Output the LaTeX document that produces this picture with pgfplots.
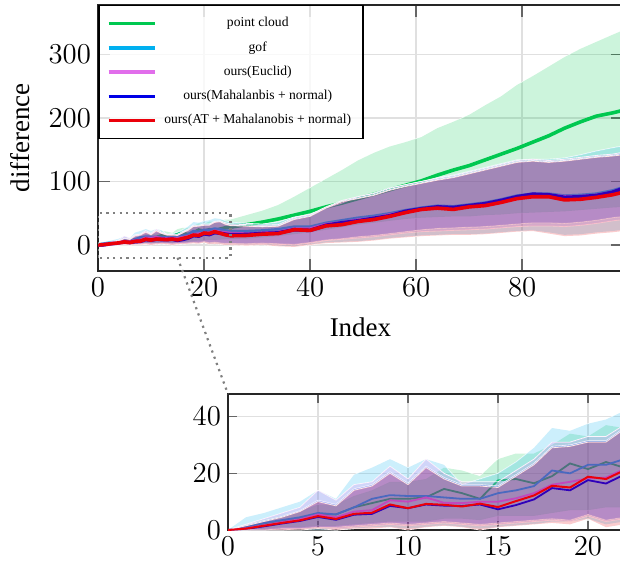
\documentclass[border=0pt]{standalone}
\usepackage{fontspec}
\setmainfont{Liberation Serif}
\usepackage{pgfplots}
\pgfplotsset{compat=1.18}
\usepackage{pgfplotstable}
\usepgfplotslibrary{fillbetween}
\pgfkeysifdefined{/tikz/fill between/on layer}{\tikzset{fill between/on layer=main}}{}
\pgfkeysifdefined{/tikz/fill between/on layer/.@cmd}{\tikzset{fill between/on layer=main}}{}

\definecolor{cG}{RGB}{0,200,80}
\definecolor{cC}{RGB}{0,176,240}
\definecolor{cV}{RGB}{225,110,235}
\definecolor{cB}{RGB}{0,0,230}
\definecolor{cR}{RGB}{235,0,10}

% columns: index, mean, upper, lower
\pgfplotstableread{
x m u l
0 0 0 0
1 0.8 2 0
2 2 3.5 0.5
3 3 5 1
4 4 6.5 1
5 5.5 9 1.5
6 5.5 9 1.5
7 8 12 2
8 9.5 14 2.5
9 11 17 3
10 11 17 3
11 11.5 18 3
12 14.5 22 4
13 13 21 4
14 11 19 3.5
15 17.5 25 5
16 18 27 5
17 16.5 27 5
18 19 30 6
19 23.5 34 7
20 21.5 33 7
21 24 37 8
22 22 36 8
23 25 38 8.5
24 27 40 9
25 28 40 9.5
28 32 47 10
31 36 54 12
34 41 63 14
37 47 76 17
40 53 90 20
43 60 104 24
46 66 118 28
49 73 133 32
52 80 145 35
55 87 155 38
58 94 162 41
61 101 170 43
64 110 184 44
67 118 194 45
70 125 205 45
73 134 220 47
76 143 234 48
79 152 252 50
82 162 266 51
85 172 281 52
88 184 296 53
91 194 309 55
94 203 320 57
97 208 331 59
99 212 338 60
}\tG

\pgfplotstableread{
x m u l
0 0 0 0
1 1 4.5 0
2 2.5 6 0
3 3.5 8 0
4 4.5 10 0
5 6 14 0
6 5.5 11 0
7 8 19.5 0.5
8 11 22 1
9 12.3 25 1
10 12 22 0.5
11 12 25 1
12 11.5 23 1.5
13 11 16 1
14 11 18 0.5
15 13 20 1
16 14 24 1.5
17 15.5 29 2
18 21 36 3
19 20 35 3
20 23 37.5 4
21 23 39 2
22 25 42 3
23 24 41 2
24 22 38 1
25 21 36 1
28 21 34 0
31 22 33 1
34 24 36 -1
37 28 44 -2
40 28 48 1
43 34 58 4
46 38 66 5
49 42 76 6
52 45 82 8
55 49 90 11
58 54 95 13
61 58 100 15
64 61 106 16
67 60 110 17
70 63 116 17
73 66 122 18
76 71 128 20
79 77 134 22
82 80 135 23
85 80 135 20
88 77 137 16
91 78 142 17
94 80 148 20
97 85 153 22
99 90 156 24
}\tC

\pgfplotstableread{
x m u l
0 0 0 0
1 0.6 2 0
2 1.7 4 0
3 2.8 6 0
4 3.8 8 0.5
5 5.5 14 1
6 4.5 10.5 0.5
7 6.5 16 1
8 7 17 1.5
9 10.5 22.5 2
10 10 18 1.5
11 11.5 25 2
12 9.6 20 2.5
13 9.5 17 2
14 10 17 1.5
15 10 17 2
16 11.2 21 2.5
17 13 25 3
18 16 31 3.5
19 17 31 3
20 18.2 33 5
21 18.5 33 3
22 21.5 37 4
23 20 38 3
24 19 35 2
25 18 33 2
28 17 32 1
31 18.5 31 2
34 20 32 1
37 25 43 0
40 25 48 3
43 32 60 7
46 35 70 9
49 39 76 11
52 42 81 13
55 47 89 16
58 52 95 19
61 56 100 21
64 59 105 22
67 58 109 23
70 61 115 24
73 64 121 25
76 69 127 27
79 75 133 29
82 78 135 30
85 78 133 30
88 76 135 29
91 76 138 31
94 78 141 34
97 82 143 38
99 86 146 40
}\tV

\pgfplotstableread{
x m u l
0 0 0 0
1 0.4 1.8 0
2 1.3 3.3 0
3 2.3 4.8 0.5
4 3.2 6.8 0.5
5 4.6 10.5 1
6 3.6 9 1
7 5.4 14.5 1.5
8 5.7 16 2
9 8.5 20.5 2.5
10 7.7 16.5 2
11 9 22.5 2.5
12 8.6 18.5 3
13 8.5 16 2.5
14 9 16 2
15 7.3 15.5 2.5
16 8.8 19.5 3
17 10.8 23.5 3.5
18 14.8 29.5 4
19 14 30 3.5
20 17.6 31.5 5.5
21 16.4 31.5 3.5
22 19.5 36 4.5
23 18.5 37 3.5
24 17 33 2.5
25 16 31 2.5
28 16.5 30 2
31 18 29 3
34 19 30 2
37 24 41 1
40 23 46 4
43 31 59 8
46 35 69 10
49 38 74 13
52 42 79 15
55 46 87 18
58 53 93 21
61 57 98 24
64 60 103 26
67 59 107 27
70 62 113 28
73 65 119 29
76 70 125 31
79 76 131 33
82 80 133 35
85 79 131 35
88 75 133 34
91 76 136 36
94 78 139 39
97 83 141 43
99 89 144 45
}\tB

\pgfplotstableread{
x m u l
0 0 0 0
1 0.5 1.5 0
2 1.5 3 0
3 2.5 4.5 0
4 3.4 6.5 0
5 4.9 10 0.5
6 3.9 8.5 0
7 5.7 14 0.5
8 6.1 15.5 0.5
9 9 20 1
10 7.7 16 0
11 9.2 22 1
12 8.9 18 1.5
13 8.3 15.5 1
14 9.3 15.5 0
15 8.1 15 1
16 10.2 19 1.5
17 12.2 23 2
18 15.6 29 2.5
19 15 29.5 2
20 18.8 31 4
21 18 31 1
22 21 35.5 2
23 18.5 36.5 1
24 16 32.5 0
25 14.5 30.5 0
28 15 29.5 -1
31 17 28.5 0
34 18 29.5 -2
37 24 40 -3
40 23 45 0
43 30 58 3
46 32 68 4
49 37 73 5
52 40 78 7
55 45 86 10
58 51 92 12
61 56 97 14
64 58 102 15
67 56 106 16
70 60 112 16
73 62 118 17
76 67 124 19
79 73 130 21
82 76 132 22
85 76 130 18
88 71 132 14
91 72 135 15
94 75 138 18
97 79 140 20
99 83 142 22
}\tR

% one series: white band edges, translucent band, mean line
\newcommand\band[5]{%
  \addplot[name path=#2u, draw=white, line width=0.4pt, forget plot] table[x=x,y=u]{#1};
  \addplot[name path=#2l, draw=white, line width=0.4pt, forget plot] table[x=x,y=l]{#1};
  \addplot[fill=#3, fill opacity=#4, draw=none, forget plot] fill between[of=#2u and #2l];
  \addplot[#3, line width=#5] table[x=x,y=m]{#1};
}

\pgfplotsset{
  common/.style={
    scale only axis,
    grid=major,
    major grid style={black!12, line width=0.8pt},
    axis line style={black!85, line width=0.8pt},
    tick style={black!60, line width=0.8pt},
    tick label style={font=\fontsize{13.7}{16}\selectfont},
  },
}

\begin{document}
\begin{tikzpicture}
\begin{axis}[
  common,
  name=main, at={(0,0)}, anchor=south west,
  width=262.5pt, height=133pt,
  xmin=0, xmax=99, ymin=-41, ymax=378,
  xtick={0,20,40,60,80}, ytick={0,100,200,300},
  major tick length=6pt,
  xlabel={Index}, ylabel={difference},
  label style={font=\fontsize{13.5}{16}\selectfont},
  xlabel style={at={(axis description cs:0.5,-0.21)}, anchor=center},
  ylabel style={at={(axis description cs:-0.149,0.5)}, anchor=center},
  legend cell align=center,
  legend image code/.code={\draw[#1] (0pt,0pt) -- (23pt,0pt);},
  legend style={at={(0,1)}, anchor=north west, draw=black, line width=0.75pt,
    fill=white, fill opacity=0.8, text opacity=1, draw opacity=1,
    inner xsep=4pt, inner ysep=3.5pt, row sep=1.45pt, column sep=2pt,
    font=\fontsize{6.8}{8}\selectfont,
    nodes={inner sep=2pt, text height=5pt, text depth=1.7pt}},
]
\band{\tG}{g}{cG}{0.2}{1.8pt}
\addlegendentry{point cloud}
\band{\tC}{c}{cC}{0.2}{1.8pt}
\addlegendentry{gof}
\band{\tV}{v}{cV}{0.2}{1.8pt}
\addlegendentry{ours(Euclid)}
\band{\tB}{b}{cB}{0.18}{1.8pt}
\addlegendentry{ours(Mahalanbis + normal)}
\band{\tR}{r}{cR}{0.2}{1.8pt}
\addlegendentry{ours(AT + Mahalanobis + normal)}
\draw[black!50, line width=1.1pt, dash pattern=on 1.1pt off 2.2pt]
  (axis cs:0,-20) rectangle (axis cs:25,50);
\coordinate (zs) at (axis cs:15,-20);
\end{axis}

\begin{axis}[
  common,
  name=inset, at={(65pt,-129.5pt)}, anchor=south west,
  width=225pt, height=68pt,
  xmin=0, xmax=25, ymin=0, ymax=48,
  xtick={0,5,10,15,20}, ytick={0,20,40},
  major tick length=4.5pt,
]
\band{\tG}{g}{cG}{0.2}{0.9pt}
\band{\tC}{c}{cC}{0.2}{0.9pt}
\band{\tV}{v}{cV}{0.2}{0.9pt}
\band{\tB}{b}{cB}{0.18}{0.9pt}
\band{\tR}{r}{cR}{0.2}{1pt}
\end{axis}

\draw[black!50, line width=1.1pt, dash pattern=on 1.1pt off 2.2pt] (zs) -- (inset.north west);

\pgfresetboundingbox
\path[use as bounding box] (-49pt,-145.5pt) rectangle (261pt,135.5pt);
\end{tikzpicture}
\end{document}
